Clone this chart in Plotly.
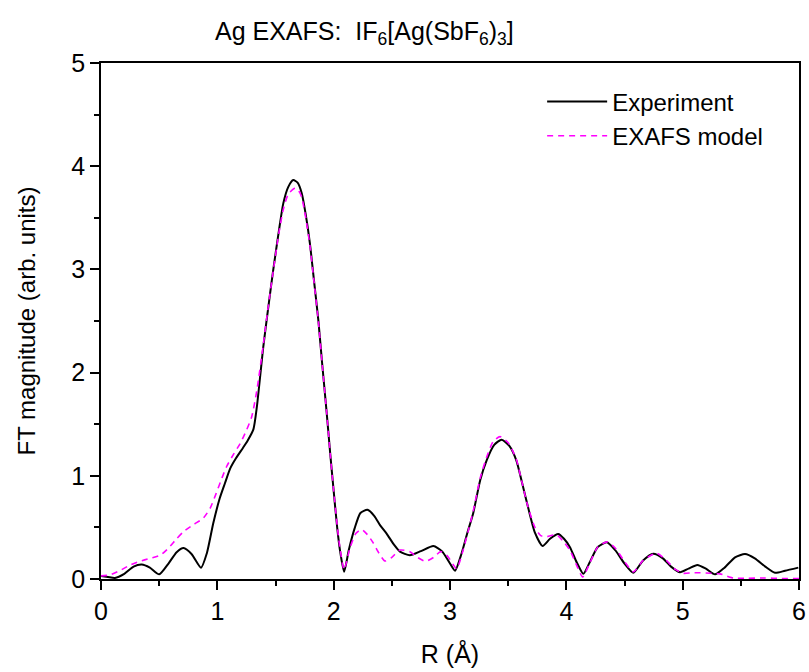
import plotly.graph_objects as go

# Experiment FT magnitude
exp_r = [0.00, 0.06, 0.12, 0.20, 0.28, 0.35, 0.42, 0.50, 0.58, 0.65, 0.71, 0.78, 0.86, 0.91, 0.965,
         1.02, 1.066, 1.11, 1.16, 1.22, 1.26, 1.31, 1.34, 1.395, 1.44, 1.48, 1.53, 1.567, 1.61, 1.653,
         1.69, 1.725, 1.76, 1.796, 1.83, 1.868, 1.90, 1.94, 1.97, 1.997, 2.03, 2.054, 2.09, 2.13, 2.18,
         2.23, 2.29, 2.35, 2.40, 2.455, 2.52, 2.57, 2.655, 2.75, 2.857, 2.93, 3.00, 3.043, 3.10, 3.15,
         3.20, 3.26, 3.315, 3.38, 3.444, 3.51, 3.57, 3.62, 3.67, 3.73, 3.796, 3.86, 3.93, 3.98, 4.03,
         4.09, 4.146, 4.20, 4.27, 4.347, 4.42, 4.50, 4.576, 4.66, 4.747, 4.83, 4.90, 4.977, 5.05, 5.126,
         5.20, 5.278, 5.36, 5.45, 5.536, 5.62, 5.71, 5.794, 5.88, 5.994]
exp_ft = [0.03, 0.02, 0.01, 0.05, 0.12, 0.14, 0.11, 0.045, 0.15, 0.26, 0.30, 0.24, 0.11, 0.25, 0.54,
          0.78, 0.93, 1.07, 1.17, 1.27, 1.34, 1.45, 1.67, 2.25, 2.65, 2.99, 3.38, 3.64, 3.80, 3.866,
          3.84, 3.74, 3.53, 3.25, 2.90, 2.51, 2.10, 1.61, 1.22, 0.89, 0.50, 0.28, 0.07, 0.28, 0.49,
          0.64, 0.67, 0.61, 0.52, 0.44, 0.33, 0.265, 0.23, 0.27, 0.32, 0.27, 0.15, 0.08, 0.25, 0.45,
          0.64, 0.96, 1.15, 1.30, 1.35, 1.29, 1.15, 0.93, 0.70, 0.45, 0.32, 0.39, 0.436, 0.39, 0.31,
          0.16, 0.05, 0.16, 0.31, 0.355, 0.28, 0.15, 0.06, 0.18, 0.245, 0.20, 0.12, 0.065, 0.10, 0.136,
          0.10, 0.045, 0.11, 0.21, 0.242, 0.20, 0.12, 0.06, 0.08, 0.11]

# EXAFS model FT magnitude
mod_r = [0.00, 0.08, 0.16, 0.25, 0.33, 0.42, 0.51, 0.58, 0.65, 0.71, 0.80, 0.88, 0.94, 0.99, 1.04,
         1.08, 1.14, 1.195, 1.25, 1.295, 1.34, 1.395, 1.44, 1.48, 1.53, 1.567, 1.61, 1.668, 1.70, 1.725,
         1.76, 1.796, 1.83, 1.868, 1.90, 1.94, 1.97, 1.997, 2.03, 2.054, 2.09, 2.14, 2.19, 2.24, 2.29,
         2.34, 2.39, 2.44, 2.50, 2.57, 2.655, 2.72, 2.79, 2.86, 2.92, 2.98, 3.057, 3.11, 3.16, 3.20,
         3.26, 3.315, 3.37, 3.43, 3.50, 3.57, 3.62, 3.67, 3.73, 3.78, 3.83, 3.914, 3.97, 4.03, 4.09,
         4.14, 4.20, 4.27, 4.35, 4.42, 4.50, 4.576, 4.66, 4.776, 4.86, 4.94, 5.006, 5.08, 5.15, 5.24,
         5.32, 5.40, 5.436, 5.55, 5.70, 5.85, 6.00]
mod_ft = [0.03, 0.04, 0.08, 0.135, 0.17, 0.20, 0.23, 0.30, 0.39, 0.46, 0.53, 0.59, 0.69, 0.83, 0.98,
          1.09, 1.21, 1.31, 1.44, 1.57, 1.83, 2.27, 2.66, 2.98, 3.36, 3.58, 3.73, 3.786, 3.76, 3.70,
          3.50, 3.23, 2.89, 2.50, 2.10, 1.61, 1.22, 0.89, 0.52, 0.30, 0.09, 0.30, 0.44, 0.48, 0.43,
          0.35, 0.25, 0.175, 0.21, 0.28, 0.265, 0.21, 0.17, 0.21, 0.265, 0.22, 0.10, 0.27, 0.48, 0.66,
          0.98, 1.18, 1.33, 1.38, 1.32, 1.16, 0.93, 0.70, 0.50, 0.42, 0.41, 0.43, 0.37, 0.28, 0.13,
          0.02, 0.15, 0.31, 0.36, 0.30, 0.17, 0.07, 0.18, 0.25, 0.18, 0.09, 0.055, 0.06, 0.06, 0.055,
          0.05, 0.02, 0.01, 0.007, 0.01, 0.005, 0.005]

x_ticks = [0, 1, 2, 3, 4, 5, 6]
y_ticks = [0, 1, 2, 3, 4, 5]

FONT = "Liberation Sans, Arial, sans-serif"

fig = go.Figure()
fig.add_trace(go.Scatter(x=exp_r, y=exp_ft, mode="lines", name="Experiment",
                         line=dict(color="black", width=2, shape="spline", smoothing=0.6)))
fig.add_trace(go.Scatter(x=mod_r, y=mod_ft, mode="lines", name="EXAFS model",
                         line=dict(color="#ff00ff", width=1.6, dash="6px,5px",
                                   shape="spline", smoothing=0.6)))

axis_common = dict(showline=True, linecolor="black", linewidth=1.5, mirror=True,
                   ticks="outside", ticklen=9, tickwidth=1.5, tickcolor="black",
                   showgrid=False, zeroline=False, automargin=False,
                   tickfont=dict(family=FONT, size=25, color="black"))

fig.update_xaxes(range=[0, 6], tickvals=x_ticks,
                 minor=dict(dtick=0.5, tick0=0, ticks="outside", ticklen=5, tickwidth=1.5, tickcolor="black"),
                 title=dict(text="R (Å)", font=dict(family=FONT, size=25, color="black"), standoff=22),
                 **axis_common)
fig.update_yaxes(range=[0, 5], tickvals=y_ticks,
                 minor=dict(dtick=0.5, tick0=0, ticks="outside", ticklen=5, tickwidth=1.5, tickcolor="black"),
                 title=dict(text="FT magnitude (arb. units)", font=dict(family=FONT, size=24, color="black"), standoff=29),
                 **axis_common)

fig.add_annotation(text="Ag EXAFS:\u00a0\u00a0IF<sub>6</sub>[Ag(SbF<sub>6</sub>)<sub>3</sub>]",
                   xref="paper", yref="paper", x=0.378, y=1.0, yshift=30,
                   xanchor="center", yanchor="middle", showarrow=False,
                   font=dict(family=FONT, size=25, color="black"))

fig.update_layout(
    width=809, height=672,
    margin=dict(l=101, r=10, t=63, b=93),
    paper_bgcolor="white", plot_bgcolor="white",
    showlegend=True,
    legend=dict(x=0.632, y=0.968, xanchor="left", yanchor="top",
                bgcolor="rgba(0,0,0,0)", borderwidth=0,
                font=dict(family=FONT, size=24, color="black"),
                tracegroupgap=0, itemwidth=60),
)

fig.write_html("out.html")
